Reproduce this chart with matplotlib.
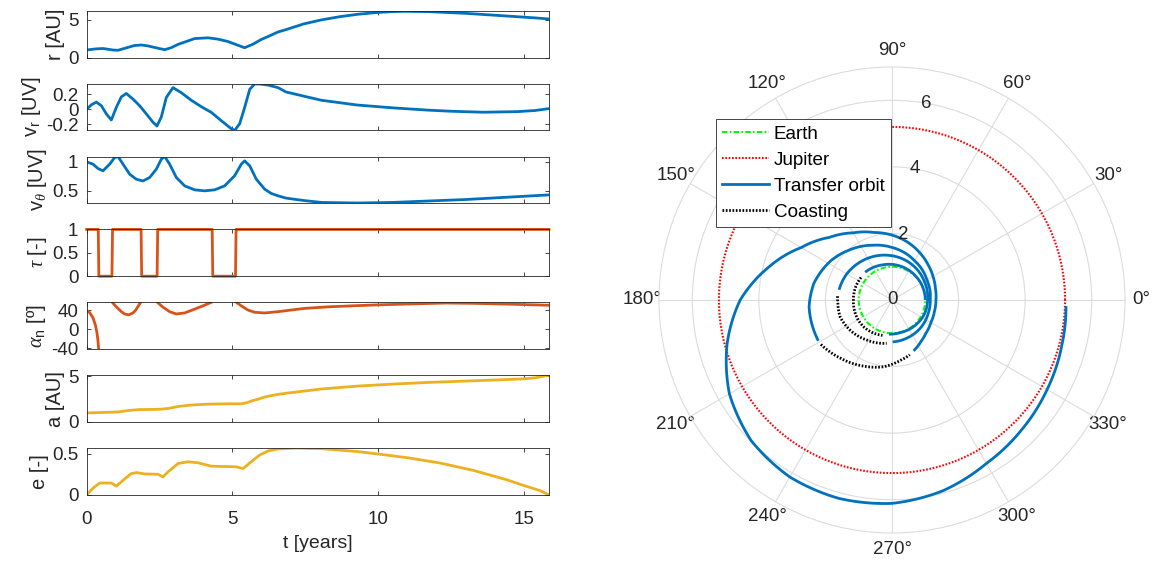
import numpy as np
import matplotlib.pyplot as plt
from matplotlib.ticker import FormatStrFormatter
from matplotlib.path import Path
from matplotlib.patches import PathPatch
from matplotlib.lines import Line2D

plt.rcParams['font.family'] = ['Liberation Sans', 'DejaVu Sans']
plt.rcParams['mathtext.fontset'] = 'custom'
plt.rcParams['mathtext.rm'] = 'Liberation Sans'
plt.rcParams['mathtext.it'] = 'Liberation Serif:italic'
plt.rcParams['mathtext.bf'] = 'Liberation Sans:bold'
plt.rcParams['axes.unicode_minus'] = False

# MATLAB default colours
blue = '#0072BD'
orange = '#D95319'
yellow = '#EDB120'
ink = '#262626'

# ---- time histories (t in years) ----
t_r = [0, 0.33, 0.56, 0.9, 1.08, 1.42, 1.65, 1.88, 2.1, 2.34, 2.68, 2.9, 3.14,
       3.4, 3.71, 4.17, 4.5, 4.85, 5.15, 5.42, 5.7, 5.99, 6.3, 6.57, 6.85, 7.45,
       8.05, 8.7, 9.3, 9.9, 10.5, 10.9, 11.7, 13.0, 14.2, 15.4, 15.87]
r_au = [1.0, 1.15, 1.2, 1.0, 0.96, 1.35, 1.6, 1.66, 1.55, 1.33, 1.04, 1.3, 1.75,
        2.1, 2.52, 2.62, 2.45, 2.13, 1.7, 1.3, 1.75, 2.39, 2.92, 3.4, 3.72, 4.47,
        5.0, 5.44, 5.75, 5.97, 6.11, 6.15, 6.11, 5.88, 5.58, 5.27, 5.13]

t_vr = [0, 0.163, 0.334, 0.506, 0.677, 0.849, 1.02, 1.192, 1.363, 1.592, 1.82,
        2.05, 2.278, 2.416, 2.565, 2.736, 2.965, 3.25, 3.594, 3.937, 4.28, 4.624,
        4.967, 5.08, 5.253, 5.425, 5.6, 5.767, 5.94, 6.23, 6.57, 6.84, 7.5, 8.06,
        9.29, 10.5, 11.7, 12.5, 13.6, 14.8, 15.4, 15.87]
v_r = [0.0, 0.06, 0.096, 0.048, -0.06, -0.14, 0.026, 0.165, 0.21, 0.135, 0.048,
       -0.06, -0.17, -0.22, -0.10, 0.157, 0.287, 0.22, 0.12, 0.035, -0.04, -0.15,
       -0.256, -0.278, -0.19, 0.026, 0.265, 0.335, 0.335, 0.32, 0.287, 0.23,
       0.17, 0.12, 0.057, 0.02, -0.01, -0.025, -0.038, -0.03, -0.015, 0.01]

t_vt = [0, 0.22, 0.39, 0.563, 0.792, 0.963, 1.078, 1.25, 1.478, 1.707, 1.935,
        2.164, 2.393, 2.565, 2.68, 2.85, 3.08, 3.365, 3.71, 4.05, 4.395, 4.738,
        5.08, 5.31, 5.425, 5.6, 5.825, 6.11, 6.34, 6.57, 6.84, 7.5, 8.06, 9.29,
        10.5, 12.0, 13.0, 14.8, 15.87]
v_theta = [1.0, 0.96, 0.885, 0.845, 0.96, 1.075, 1.092, 0.96, 0.787, 0.70, 0.67,
           0.73, 0.874, 1.046, 1.092, 0.96, 0.73, 0.586, 0.517, 0.5, 0.517,
           0.586, 0.76, 0.96, 1.017, 0.93, 0.70, 0.53, 0.454, 0.414, 0.375,
           0.33, 0.30, 0.29, 0.30, 0.33, 0.35, 0.40, 0.43]

t_tau = [0, 0.40, 0.42, 0.87, 0.89, 1.87, 1.89, 2.42, 2.44, 4.31, 4.33, 5.11,
         5.13, 15.87]
tau = [1, 1, 0, 0, 1, 1, 0, 0, 1, 1, 0, 0, 1, 1]

nan = np.nan
t_alpha = [0, 0.105, 0.22, 0.30, 0.357, 0.391, 0.414, nan,
           0.883, 0.98, 1.078, 1.2, 1.307, 1.44, 1.59, 1.68, 1.74, 1.855, nan,
           2.43, 2.52, 2.62, 2.85, 3.08, 3.365, 3.71, 4.05, 4.28, nan,
           5.14, 5.31, 5.54, 5.77, 6.11, 6.57, 7.45, 8.3, 9.29, 10.2, 11.1,
           12.35, 13.3, 14.2, 15.0, 15.87]
alpha_deg = [40, 35.3, 24.4, 9.5, -7.5, -24.4, -41.4, nan,
             57, 50, 44, 37, 32.5, 30.5, 34.6, 40, 46, 57, nan,
             57, 52, 46.8, 37.3, 32.5, 34.6, 42.7, 51, 57, nan,
             57, 49.5, 40.7, 36, 34.6, 37.3, 44, 47.5, 50, 52, 53.5,
             55.5, 54.8, 53.5, 52.3, 50.8]

t_a = [0, 0.4, 0.86, 1.1, 1.43, 1.7, 1.87, 2.0, 2.43, 2.57, 2.85, 3.14, 3.45,
       3.71, 4.0, 4.28, 4.85, 5.31, 5.5, 5.65, 5.9, 6.11, 6.35, 6.57, 6.84, 7.5,
       8.06, 9.29, 10.5, 11.7, 13.0, 14.2, 15.0, 15.4, 15.87]
a_au = [0.99, 1.03, 1.07, 1.1, 1.25, 1.33, 1.36, 1.36, 1.38, 1.40, 1.5, 1.69,
        1.8, 1.875, 1.92, 1.95, 1.985, 1.985, 2.1, 2.28, 2.5, 2.72, 2.88, 3.01,
        3.13, 3.38, 3.6, 3.91, 4.13, 4.31, 4.46, 4.6, 4.7, 4.82, 5.1]

t_e = [0, 0.22, 0.45, 0.85, 1.02, 1.25, 1.53, 1.71, 2.0, 2.45, 2.62, 2.79, 3.14,
       3.48, 3.82, 4.28, 4.74, 5.14, 5.37, 5.65, 5.94, 6.23, 6.57, 7.2, 8.06,
       9.29, 10.0, 11.0, 12.13, 13.27, 14.42, 15.0, 15.56, 15.87]
ecc = [0.0, 0.083, 0.145, 0.145, 0.107, 0.178, 0.26, 0.273, 0.256, 0.252, 0.219,
       0.281, 0.384, 0.405, 0.393, 0.351, 0.347, 0.343, 0.322, 0.405, 0.488,
       0.537, 0.562, 0.572, 0.565, 0.53, 0.5, 0.455, 0.39, 0.30, 0.185, 0.115,
       0.053, 0.0]

# ---- trajectory in the orbital plane (theta in degrees, r in AU) ----
earth_r = 1.0
jupiter_r = 5.2
thrust_theta = [
    [0, 20, 45, 70, 90, 104, 120, 134],
    [265, 285, 310, 335, 360, 390, 420, 450, 480, 510, 529],
    [271, 291, 315, 340, 360, 390, 420, 450, 470, 490, 507, 528, 545, 569],
    [293, 305, 315, 330, 345, 360, 375, 390, 405, 420, 435, 450, 465, 480,
     495, 510, 525, 540, 555, 570, 585, 600, 615, 630, 645, 660, 675, 690,
     705, 718],
]
thrust_r = [
    [1.0, 1.0, 1.01, 1.04, 1.07, 1.09, 1.13, 1.16],
    [1.03, 1.01, 1.03, 1.06, 1.07, 1.12, 1.22, 1.33, 1.45, 1.57, 1.62],
    [1.26, 1.23, 1.20, 1.16, 1.15, 1.21, 1.36, 1.58, 1.75, 1.97, 2.18, 2.40,
     2.50, 2.53],
    [1.66, 1.52, 1.43, 1.35, 1.32, 1.32, 1.35, 1.42, 1.52, 1.65, 1.80, 1.95,
     2.10, 2.33, 2.66, 3.15, 3.83, 4.56, 5.13, 5.64, 5.98, 6.14, 6.17, 6.11,
     5.93, 5.67, 5.51, 5.38, 5.28, 5.23],
]
coast_theta = [
    [144, 160, 180, 195, 210, 225, 240, 255],
    [176, 184, 198, 216, 238, 263],
    [212, 228, 247, 263, 278, 288],
]
coast_r = [
    [1.15, 1.16, 1.16, 1.17, 1.18, 1.17, 1.14, 1.10],
    [1.64, 1.63, 1.64, 1.55, 1.42, 1.31],
    [2.52, 2.34, 2.16, 2.02, 1.83, 1.73],
]

W, H = 1162, 564
fig = plt.figure(figsize=(W / 100, H / 100), dpi=100)

panels = [
    (t_r, r_au, blue, 'r [AU]', (0, 6.23), [0, 5]),
    (t_vr, v_r, blue, r'v$_\mathrm{r}$ [UV]', (-0.278, 0.34), [-0.2, 0, 0.2]),
    (t_vt, v_theta, blue, r'v$_\theta$ [UV]', (0.285, 1.092), [0.5, 1]),
    (t_tau, tau, orange, r'$\tau$ [-]', (0, 1), [0, 0.5, 1]),
    (t_alpha, alpha_deg, orange, r'$\alpha_\mathrm{n}$ [º]', (-41.4, 57), [-40, 0, 40]),
    (t_a, a_au, yellow, 'a [AU]', (0, 5.1), [0, 5]),
    (t_e, ecc, yellow, 'e [-]', (0, 0.572), [0, 0.5]),
]

left, width = 86.6 / W, 462.4 / W
top0, pitch, h = 10.7, 72.9, 46.8
for i, (tt, yy, col, lab, ylim, yt) in enumerate(panels):
    top = top0 + i * pitch
    ax = fig.add_axes([left, 1 - (top + h) / H, width, h / H])
    ax.plot(tt, yy, color=col, lw=2, clip_on=(i != 3))
    ax.set_xlim(0, 15.87)
    ax.set_ylim(*ylim)
    ax.set_yticks(yt)
    ax.set_xticks([0, 5, 10, 15])
    ax.yaxis.set_major_formatter(FormatStrFormatter('%g'))
    ax.tick_params(direction='in', top=True, right=True, length=3, width=0.6,
                   colors=ink, labelsize=13.5)
    ax.tick_params(axis='y', pad=6)
    ax.tick_params(axis='x', pad=11.5)
    for sp in ax.spines.values():
        sp.set_color(ink)
        sp.set_linewidth(0.6)
    ax.set_ylabel(lab, fontsize=14.5, color=ink, labelpad=2)
    if i < len(panels) - 1:
        ax.tick_params(labelbottom=False)
    else:
        ax.set_xlabel('t [years]', fontsize=14, color=ink, labelpad=5)

# ---- polar trajectory ----
pax = fig.add_axes([659 / W, 1 - 533 / H, 466 / W, 466 / H], projection='polar')
earth_style = dict(color='#00ff00', lw=1.5, linestyle=(0, (2.6, 1.1, 0.8, 1.1)))
jupiter_style = dict(color='#ff0000', lw=1.5, linestyle=(0, (0.8, 0.8)))
thrust_style = dict(color=blue, lw=2, linestyle='-')
coast_style = dict(color='black', lw=2, linestyle=(0, (0.6, 0.6)))

orbit = np.deg2rad(np.linspace(0, 360, 361))
pax.plot(orbit, np.full(orbit.size, earth_r), **earth_style)
pax.plot(orbit, np.full(orbit.size, jupiter_r), **jupiter_style)


def add_arc(theta_deg, r, style):
    # PathPatch goes through the polar path transform, so each segment
    # between read points is drawn as a spiral piece instead of a chord
    verts = np.column_stack([np.deg2rad(theta_deg), r])
    pax.add_patch(PathPatch(Path(verts, _interpolation_steps=20), fill=False,
                            edgecolor=style['color'], lw=style['lw'],
                            linestyle=style['linestyle'], joinstyle='round',
                            capstyle='butt', zorder=2.5))


for k in range(len(thrust_theta)):
    add_arc(thrust_theta[k], thrust_r[k], thrust_style)
for k in range(len(coast_theta)):
    add_arc(coast_theta[k], coast_r[k], coast_style)

rticks = [0, 2, 4, 6]
pax.set_rlim(0, 7)
pax.set_rticks(rticks)
pax.set_yticklabels([])
for rv in rticks:
    pax.text(np.deg2rad(80), rv, f'{rv:g}', ha='center', va='center',
             fontsize=13.5, color=ink)
pax.set_thetagrids(np.arange(0, 360, 30),
                   labels=[f'{d}°' for d in range(0, 360, 30)])
pax.tick_params(axis='x', labelsize=13.5, colors=ink, pad=1.5)
pax.grid(True, color='#dcdcdc', lw=0.8)
pax.spines['polar'].set_color('#dcdcdc')
pax.spines['polar'].set_linewidth(0.8)

handles = [Line2D([], [], **earth_style), Line2D([], [], **jupiter_style),
           Line2D([], [], **thrust_style), Line2D([], [], **coast_style)]
labels = ['Earth', 'Jupiter', 'Transfer orbit', 'Coasting']
leg = pax.legend(handles, labels, loc='upper left',
                 bbox_to_anchor=(715.7 / W, 1 - 119 / H),
                 bbox_transform=fig.transFigure, borderaxespad=0,
                 fontsize=13.6, handlelength=2.47, handletextpad=0.25,
                 borderpad=0.35, labelspacing=0.46, fancybox=False,
                 framealpha=1, edgecolor=ink)
leg.get_frame().set_linewidth(0.6)

fig.savefig('out.png', dpi=100)
